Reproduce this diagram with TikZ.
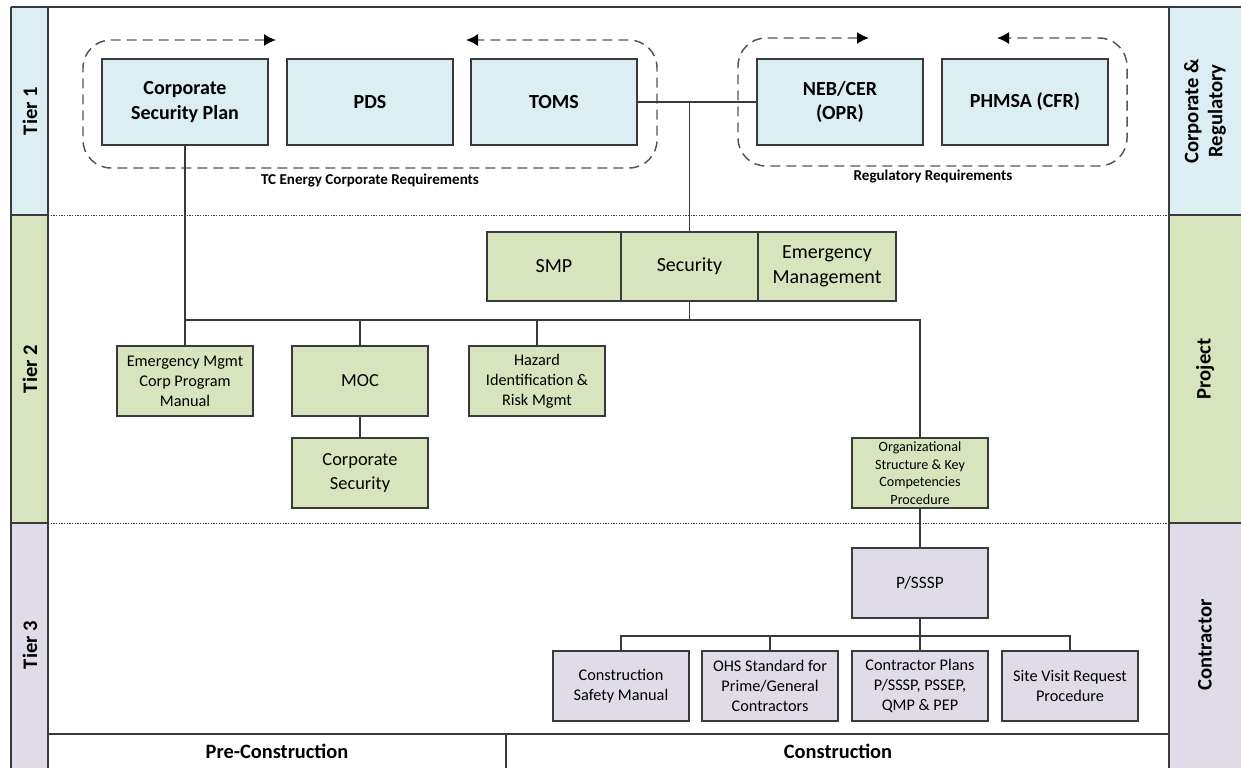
\documentclass[tikz,border=0pt]{standalone}
\usepackage{fontspec}
\setmainfont{Carlito}
\usetikzlibrary{arrows.meta}
\definecolor{blueF}{HTML}{DAEEF3}
\definecolor{greenF}{HTML}{D7E4BD}
\definecolor{lavF}{HTML}{E0DBE9}
\definecolor{linec}{HTML}{3A3A3A}
\definecolor{dashc}{HTML}{555555}
\tikzset{
  base/.style={draw=linec, line width=1.1pt, align=center, inner sep=0pt, text=black},
  tonebox/.style={base, fill=blueF, minimum width=124.5pt, minimum height=64.5pt, font=\fontsize{15}{18.5}\selectfont\bfseries},
  twobig/.style={base, fill=greenF, minimum height=52pt, font=\fontsize{15}{18.5}\selectfont},
  twobox/.style={base, fill=greenF, minimum width=102pt, minimum height=52.5pt, font=\fontsize{12.2}{15}\selectfont},
  twomid/.style={base, fill=greenF, minimum width=102pt, minimum height=52.5pt, font=\fontsize{13.8}{18}\selectfont},
  twosmall/.style={base, fill=greenF, minimum width=102pt, minimum height=52.5pt, font=\fontsize{10.6}{13.2}\selectfont},
  threebox/.style={base, fill=lavF, minimum width=102pt, minimum height=52.5pt, font=\fontsize{12.2}{15}\selectfont},
  conn/.style={draw=linec, line width=0.9pt},
  dasharr/.style={draw=dashc, line width=1.1pt, dash pattern=on 7.5pt off 4.5pt, rounded corners=21pt, {Latex[length=9pt,width=9pt,color=black]}-{Latex[length=9pt,width=9pt,color=black]}},
  grouplabel/.style={font=\fontsize{11.3}{13}\selectfont\bfseries, inner sep=0pt},
  sidelabel/.style={rotate=90, font=\fontsize{15.5}{18}\selectfont\bfseries, align=center, inner sep=0pt},
  phaselabel/.style={font=\fontsize{15.3}{18}\selectfont\bfseries, inner sep=0pt},
  frame/.style={draw=linec, line width=1.1pt},
  tierdiv/.style={draw=linec, line width=0.7pt, dash pattern=on 1pt off 1pt}
}
\begin{document}
\begin{tikzpicture}[x=0.75pt, y=-0.75pt]
\useasboundingbox (0,0) rectangle (1241,768);
\fill[white] (0,0) rectangle (1241,768);
% side bars
\fill[blueF] (11,7) rectangle (48,215);
\fill[greenF] (11,215) rectangle (48,523);
\fill[lavF] (11,523) rectangle (48,768);
\fill[blueF] (1169,7) rectangle (1241,215);
\fill[greenF] (1169,215) rectangle (1241,523);
\fill[lavF] (1169,523) rectangle (1241,768);
% frame lines
\draw[frame] (11,7) -- (1241,7);
\draw[frame] (11,7) -- (11,768);
\draw[frame] (48,7) -- (48,768);
\draw[frame] (1169,7) -- (1169,768);
\draw[frame] (11,215) -- (48,215);
\draw[frame] (11,523) -- (48,523);
\draw[frame] (1169,215) -- (1241,215);
\draw[frame] (1169,523) -- (1241,523);
\draw[frame] (48,734) -- (1169,734);
\draw[frame] (506,734) -- (506,768);
\draw[tierdiv] (48,215) -- (1169,215);
\draw[tierdiv] (48,523) -- (1169,523);
% side labels
\node[sidelabel] (lt1) at (30,111) {Tier 1};
\node[sidelabel] (lt2) at (30,369) {Tier 2};
\node[sidelabel] (lt3) at (30,645) {Tier 3};
\node[sidelabel] (rcr) at (1205,111) {Corporate \&\\Regulatory};
\node[sidelabel] (rpj) at (1205,369) {Project};
\node[sidelabel] (rct) at (1205,645) {Contractor};
\node[phaselabel] (pre) at (277,751) {Pre-Construction};
\node[phaselabel] (con) at (838,751) {Construction};
% dashed group outlines
\coordinate (g1s) at (276,40);
\coordinate (g1e) at (466,40);
\coordinate (g2s) at (869,38);
\coordinate (g2e) at (997,38);
\draw[dasharr] (g1s) -- (83,40) -- (83,168) -- (657,168) -- (657,40) -- (g1e);
\draw[dasharr] (g2s) -- (738,38) -- (738,166) -- (1127,166) -- (1127,38) -- (g2e);
\node[grouplabel] (g1l) at (370,180) {TC Energy Corporate Requirements};
\node[grouplabel] (g2l) at (933,176) {Regulatory Requirements};
% tier 1 nodes
\node[tonebox] (csp) at (185,102) {Corporate\\Security Plan};
\node[tonebox] (pds) at (370,102) {PDS};
\node[tonebox] (toms) at (554,102) {TOMS};
\node[tonebox] (neb) at (840,102) {NEB/CER\\(OPR)};
\node[tonebox] (phm) at (1025,102) {PHMSA (CFR)};
% tier 2 nodes
\node[twobig, minimum width=100.5pt] (smp) at (554,266.5) {SMP};
\node[twobig, minimum width=102.75pt] (sec) at (689.5,266.5) {Security};
\node[twobig, minimum width=103.5pt] (em) at (827,266.5) {Emergency\\Management};
\node[twobox] (emc) at (185,381) {Emergency Mgmt\\Corp Program\\Manual};
\node[twomid] (moc) at (360,381) {MOC};
\node[twobox] (haz) at (537,381) {Hazard\\Identification \&\\Risk Mgmt};
\node[twomid] (csec) at (360,473) {Corporate\\Security};
\node[twosmall] (org) at (920,473) {Organizational\\Structure \& Key\\Competencies\\Procedure};
% tier 3 nodes
\node[threebox, font=\fontsize{13}{16}\selectfont] (pss) at (920,583) {P/SSSP};
\node[threebox] (csm) at (621,686) {Construction\\Safety Manual};
\node[threebox] (ohs) at (770,686) {OHS Standard for\\Prime/General\\Contractors};
\node[threebox] (cpl) at (920,686) {Contractor Plans\\P/SSSP, PSSEP,\\QMP \& PEP};
\node[threebox] (svr) at (1070,686) {Site Visit Request\\Procedure};
% connectors
\coordinate (busA) at (185,320);
\coordinate (busB) at (621,636);
\draw[conn] (toms.east) -- (neb.west);
\draw[conn] (toms.east -| sec.north) -- (sec.north);
\draw[conn] (csp.south) -- (busA) -- (busA -| org.north) -- (org.north);
\draw[conn] (sec.south) -- (sec.south |- busA);
\draw[conn] (emc.north) -- (emc.north |- busA);
\draw[conn] (moc.north) -- (moc.north |- busA);
\draw[conn] (haz.north) -- (haz.north |- busA);
\draw[conn] (moc.south) -- (csec.north);
\draw[conn] (org.south) -- (pss.north);
\draw[conn] (pss.south) -- (pss.south |- busB);
\draw[conn] (csm.north) -- (csm.north |- busB) -- (busB -| svr.north) -- (svr.north);
\draw[conn] (ohs.north) -- (ohs.north |- busB);
\draw[conn] (cpl.north) -- (cpl.north |- busB);
\end{tikzpicture}
\end{document}
